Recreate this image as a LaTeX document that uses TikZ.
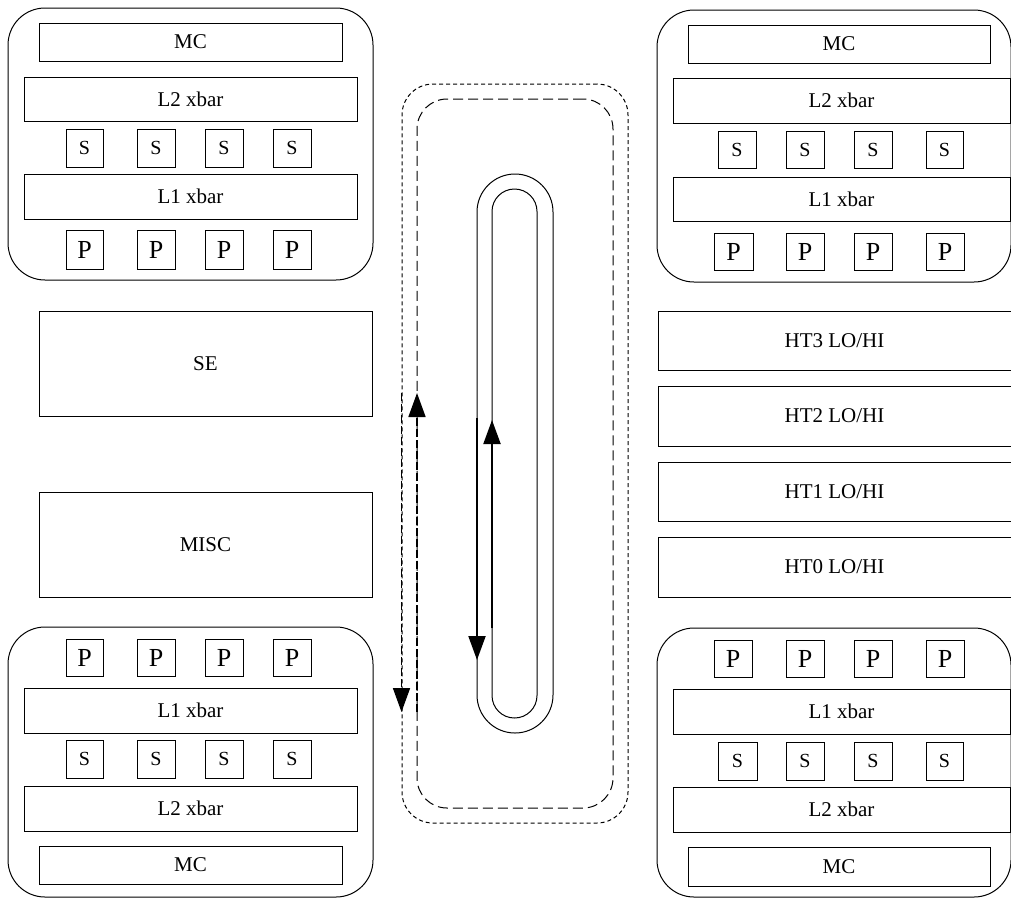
\documentclass[tikz,border=0pt]{standalone}
\usepackage{fontspec}
\setmainfont{Liberation Serif}
\usetikzlibrary{arrows.meta}
\newcommand\bx[7][]{\node[blk,#1,minimum width={#5-#3},minimum height={#6-#4}] (#2) at ({(#3+#5)/2},{(#4+#6)/2}) {#7};}
\tikzset{
  blk/.style={draw, rectangle, inner sep=0pt, line width=1pt, font=\fontsize{21}{24}\selectfont},
  pbox/.style={font=\fontsize{26}{28}\selectfont},
  sbox/.style={font=\fontsize{20}{22}\selectfont},
  cluster/.style={rounded corners=37pt},
  shortdash/.style={line width=1pt, dash pattern=on 4pt off 3pt},
  longdash/.style={line width=1pt, dash pattern=on 10pt off 5pt},
  tipstyle/.style={-{Triangle[length=24pt,width=17pt]}},
  darr/.style={tipstyle, line width=1.6pt, dash pattern=on 8pt off 3pt},
  sarr/.style={tipstyle, line width=2pt}
}
\begin{document}
\begin{tikzpicture}[x=1pt,y=-1pt]
\useasboundingbox (0,0) rectangle (1011,898);
% ---------- top-left cluster
\bx[cluster]{tl}{8}{8}{373}{280}{}
\bx{tlmc}{39}{23}{342}{61}{MC}
\bx{tlltwo}{24}{77}{357}{121}{L2 xbar}
\bx[sbox]{tlsa}{66}{129}{103}{167}{S}
\bx[sbox]{tlsb}{137}{129}{175}{167}{S}
\bx[sbox]{tlsc}{205}{129}{243}{167}{S}
\bx[sbox]{tlsd}{273}{129}{311}{167}{S}
\bx{tllone}{24}{174}{357}{219}{L1 xbar}
\bx[pbox]{tlpa}{66}{230}{103}{269}{P}
\bx[pbox]{tlpb}{137}{230}{175}{269}{P}
\bx[pbox]{tlpc}{205}{230}{243}{269}{P}
\bx[pbox]{tlpd}{273}{230}{311}{269}{P}
% ---------- top-right cluster
\bx[cluster]{tr}{657}{10}{1011}{282}{}
\bx{trmc}{688}{25}{990}{63}{MC}
\bx{trltwo}{673}{78}{1010}{123}{L2 xbar}
\bx[sbox]{trsa}{718}{131}{756}{168}{S}
\bx[sbox]{trsb}{786}{131}{824}{168}{S}
\bx[sbox]{trsc}{854}{131}{892}{168}{S}
\bx[sbox]{trsd}{926}{131}{963}{168}{S}
\bx{trlone}{673}{177}{1010}{221}{L1 xbar}
\bx[pbox]{trpa}{714}{233}{753}{270}{P}
\bx[pbox]{trpb}{786}{233}{824}{270}{P}
\bx[pbox]{trpc}{854}{233}{892}{270}{P}
\bx[pbox]{trpd}{926}{233}{964}{270}{P}
% ---------- bottom-left cluster
\bx[cluster]{bl}{8}{627}{373}{897}{}
\bx[pbox]{blpa}{66}{639}{103}{676}{P}
\bx[pbox]{blpb}{137}{639}{175}{676}{P}
\bx[pbox]{blpc}{205}{639}{243}{676}{P}
\bx[pbox]{blpd}{273}{639}{311}{676}{P}
\bx{bllone}{24}{688}{357}{733}{L1 xbar}
\bx[sbox]{blsa}{66}{740}{103}{778}{S}
\bx[sbox]{blsb}{137}{740}{175}{778}{S}
\bx[sbox]{blsc}{205}{740}{243}{778}{S}
\bx[sbox]{blsd}{273}{740}{311}{778}{S}
\bx{blltwo}{24}{786}{357}{831}{L2 xbar}
\bx{blmc}{39}{846}{342}{884}{MC}
% ---------- bottom-right cluster
\bx[cluster]{br}{657}{628}{1011}{897}{}
\bx[pbox]{brpa}{714}{640}{752}{677}{P}
\bx[pbox]{brpb}{786}{640}{824}{677}{P}
\bx[pbox]{brpc}{854}{640}{892}{677}{P}
\bx[pbox]{brpd}{926}{640}{964}{677}{P}
\bx{brlone}{673}{689}{1010}{734}{L1 xbar}
\bx[sbox]{brsa}{718}{742}{757}{780}{S}
\bx[sbox]{brsb}{786}{742}{824}{780}{S}
\bx[sbox]{brsc}{854}{742}{892}{780}{S}
\bx[sbox]{brsd}{926}{742}{963}{780}{S}
\bx{brltwo}{673}{787}{1010}{832}{L2 xbar}
\bx{brmc}{688}{847}{990}{886}{MC}
% ---------- middle blocks
\bx{se}{39}{311}{372}{416}{SE}
\bx{misc}{39}{492}{372}{597}{MISC}
\bx{htthree}{658}{311}{1011}{370}{HT3 LO/HI}
\bx{httwo}{658}{386}{1011}{446}{HT2 LO/HI}
\bx{htone}{658}{462}{1011}{521}{HT1 LO/HI}
\bx{htzero}{658}{537}{1011}{597}{HT0 LO/HI}
% ---------- central rings
\bx[shortdash,rounded corners=31pt]{outerring}{402}{84}{628}{823}{}
\bx[longdash,rounded corners=30pt]{innerring}{417}{99}{613}{808}{}
\bx[rounded corners=38pt]{loopout}{477}{174}{553}{733}{}
\bx[rounded corners=22.5pt]{loopin}{492}{189}{537}{718}{}
% ---------- arrows
\coordinate (daTop) at (401.5,393);
\coordinate (daBot) at (401.5,712);
\coordinate (dbBot) at (417,712);
\coordinate (dbTop) at (417,393);
\coordinate (saTop) at (477,418);
\coordinate (saBot) at (477,660);
\coordinate (sbBot) at (492,628);
\coordinate (sbTop) at (492,420);
\draw[darr] (daTop) -- (daBot);
\draw[darr] (dbBot) -- (dbTop);
\draw[sarr] (saTop) -- (saBot);
\draw[sarr] (sbBot) -- (sbTop);
\end{tikzpicture}
\end{document}
